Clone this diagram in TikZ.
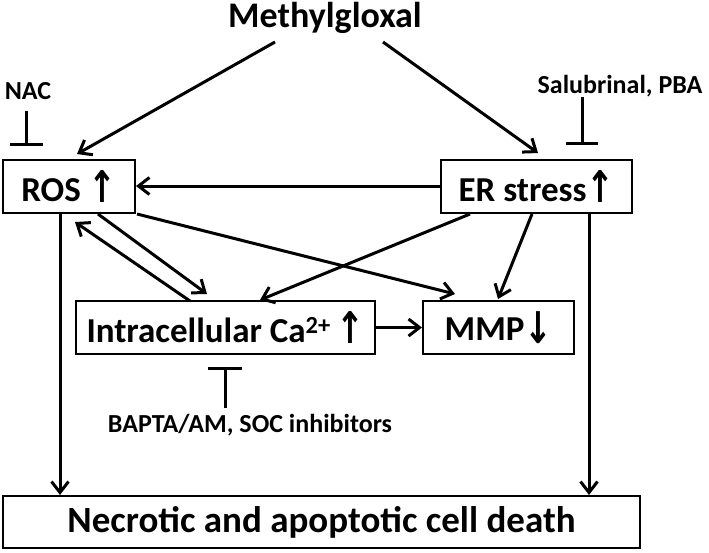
\documentclass[tikz,border=0pt]{standalone}
\usepackage{fontspec}
\setmainfont{Carlito}
\newfontfamily\arrfont{DejaVu Sans}
\newcommand{\uparr}{\raisebox{-1pt}{\scalebox{0.95}[1.25]{\arrfont ↑}}}
\newcommand{\dnarr}{\raisebox{-3pt}{\scalebox{0.95}[1.25]{\arrfont ↓}}}
\usetikzlibrary{arrows.meta}
\tikzset{
  box/.style={draw, line width=2pt, inner sep=0pt, font=\bfseries\fontsize{35}{37}\selectfont},
  lbl/.style={font=\bfseries\fontsize{26}{28}\selectfont, inner sep=0pt, anchor=base},
  arr/.style={line width=3pt, -{Straight Barb[length=11pt,width=17pt,line width=3pt]}},
  inh/.style={line width=3pt}
}
\begin{document}
\begin{tikzpicture}[x=1pt,y=-1pt]
\useasboundingbox (0,0) rectangle (709,552);
\node[font=\bfseries\fontsize{36}{38}\selectfont, inner sep=0pt, anchor=base] (meth) at (325,27) {Methylgloxal};
\node[box, minimum width=132pt, minimum height=53pt] (ros) at (69,186) {ROS \uparr};
\node[box, minimum width=191pt, minimum height=53pt] (er) at (536.5,186) {ER stress\uparr};
\node[box, minimum width=299pt, minimum height=53pt] (ca) at (225.5,327.5) {Intracellular Ca\textsuperscript{2+}\,\uparr};
\node[box, minimum width=151pt, minimum height=53pt] (mmp) at (498.5,327.5) {MMP\dnarr};
\node[box, minimum width=637pt, minimum height=52pt, font=\bfseries\fontsize{37}{39}\selectfont] (death) at (321.5,522) {Necrotic and apoptotic cell death};
\node[lbl] (nac) at (28,99) {NAC};
\node[lbl] (sal) at (620,93) {Salubrinal, PBA};
\node[lbl] (bapta) at (250,432) {BAPTA/AM, SOC inhibitors};
% inhibition bars
\coordinate (nt) at (26,111); \coordinate (nb) at (26,144);
\draw[inh] (nt) -- (nb); \draw[inh] (10,144) -- (43,144);
\coordinate (st) at (582,97); \coordinate (sb) at (582,143);
\draw[inh] (st) -- (sb); \draw[inh] (566,143) -- (598,143);
\coordinate (bt) at (225,368); \coordinate (bb) at (225,408);
\draw[inh] (bt) -- (bb); \draw[inh] (208,368) -- (242,368);
% arrows
\coordinate (m1) at (275,42); \coordinate (m2) at (383,42);
\coordinate (t1) at (77,154); \coordinate (t2) at (538,153);
\draw[arr] (m1) -- (t1);
\draw[arr] (m2) -- (t2);
\draw[arr] (er.west) -- (ros.east);
\coordinate (c1) at (190,301); \coordinate (r1) at (75,222);
\draw[arr] (c1) -- (r1);
\coordinate (r2) at (98,214); \coordinate (c2) at (207,294);
\draw[arr] (r2) -- (c2);
\coordinate (r3) at (137,214); \coordinate (m3) at (455,294);
\draw[arr] (r3) -- (m3);
\coordinate (e1) at (470,214); \coordinate (c3) at (260,300);
\draw[arr] (e1) -- (c3);
\coordinate (e2) at (532,214); \coordinate (m4) at (498,299);
\draw[arr] (e2) -- (m4);
\draw[arr] (ca.east) -- (mmp.west);
\draw[arr] (ros.south -| 60,0) -- (death.north -| 60,0);
\draw[arr] (er.south -| 589,0) -- (death.north -| 589,0);
\end{tikzpicture}
\end{document}
